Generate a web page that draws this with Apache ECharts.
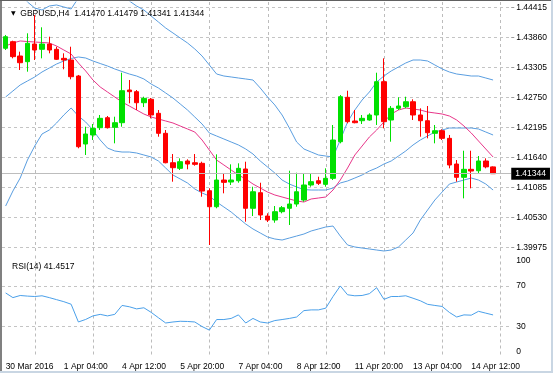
<!DOCTYPE html>
<html><head><meta charset="utf-8">
<script src="https://cdn.jsdelivr.net/npm/echarts@6/dist/echarts.min.js"></script>
<style>html,body{margin:0;padding:0;background:#fff}#c{width:553px;height:373px}</style>
</head><body><div id="c"></div>
<script>
// ---- data ----
const categories = [
 '30 Mar 20:00','31 Mar 00:00','31 Mar 04:00','31 Mar 08:00','31 Mar 12:00','31 Mar 16:00','31 Mar 20:00',
 '1 Apr 00:00','1 Apr 04:00','1 Apr 08:00','1 Apr 12:00','1 Apr 16:00','1 Apr 20:00',
 '4 Apr 00:00','4 Apr 04:00','4 Apr 08:00','4 Apr 12:00','4 Apr 16:00','4 Apr 20:00',
 '5 Apr 00:00','5 Apr 04:00','5 Apr 08:00','5 Apr 12:00','5 Apr 16:00','5 Apr 20:00',
 '6 Apr 00:00','6 Apr 04:00','6 Apr 08:00','6 Apr 12:00','6 Apr 16:00','6 Apr 20:00',
 '7 Apr 00:00','7 Apr 04:00','7 Apr 08:00','7 Apr 12:00','7 Apr 16:00','7 Apr 20:00',
 '8 Apr 00:00','8 Apr 04:00','8 Apr 08:00','8 Apr 12:00','8 Apr 16:00','8 Apr 20:00',
 '11 Apr 00:00','11 Apr 04:00','11 Apr 08:00','11 Apr 12:00','11 Apr 16:00','11 Apr 20:00',
 '12 Apr 00:00','12 Apr 04:00','12 Apr 08:00','12 Apr 12:00','12 Apr 16:00','12 Apr 20:00',
 '13 Apr 00:00','13 Apr 04:00','13 Apr 08:00','13 Apr 12:00','13 Apr 16:00','13 Apr 20:00',
 '14 Apr 00:00','14 Apr 04:00','14 Apr 08:00','14 Apr 12:00','14 Apr 16:00','14 Apr 20:00',
 '15 Apr 00:00','15 Apr 04:00','15 Apr 08:00'
];
// open, high, low, close per H4 bar
const open  = [1.43664,1.43786,1.43521,1.43416,1.43743,1.43645,1.43743,1.43645,1.43478,1.43447,
               1.43151,1.41893,1.42060,1.42195,1.42380,1.42202,1.42287,1.42892,1.42861,1.42657,
               1.42720,1.42461,1.42091,1.41547,1.41443,1.41579,1.41547,1.41536,1.41029,1.40733,
               1.41227,1.41190,1.41214,1.41431,1.40704,1.40992,1.40561,1.40487,1.40641,1.40704,
               1.40783,1.40857,1.41135,1.41214,1.41147,1.41258,1.41936,1.42757,1.42319,1.42324,
               1.42337,1.42430,1.43046,1.42337,1.42553,1.42583,1.42675,1.42430,1.42324,1.42091,
               1.42139,1.41998,1.41523,1.41277,1.41425,1.41399,1.41579,1.41470];
const high  = [1.43910,1.43804,1.43601,1.43941,1.44280,1.44052,1.43878,1.43693,1.43571,1.43693,
               1.43170,1.42213,1.42263,1.42430,1.42411,1.42398,1.43212,1.43077,1.42892,1.42768,
               1.42744,1.42522,1.42152,1.41708,1.41628,1.41610,1.41708,1.41566,1.41073,1.41702,
               1.41351,1.41517,1.41536,1.41566,1.41103,1.41177,1.40611,1.40746,1.40746,1.41399,
               1.41362,1.41338,1.41338,1.41288,1.41443,1.42245,1.42799,1.42879,1.42522,1.42430,
               1.42461,1.43212,1.43478,1.42596,1.42757,1.42768,1.42720,1.42553,1.42596,1.42245,
               1.42165,1.42060,1.41597,1.41769,1.41769,1.41671,1.41628,1.41479];
const low   = [1.43632,1.43478,1.43262,1.43231,1.43447,1.43478,1.43571,1.43447,1.43275,1.43090,
               1.41814,1.41690,1.41967,1.42152,1.42180,1.41906,1.42213,1.42646,1.42522,1.42577,
               1.42368,1.42028,1.41536,1.41196,1.41412,1.41425,1.41492,1.40918,1.40025,1.40704,
               1.40981,1.41135,1.41177,1.40456,1.40561,1.40487,1.40450,1.40437,1.40611,1.40395,
               1.40733,1.40826,1.41103,1.41135,1.41103,1.41227,1.41906,1.42276,1.42276,1.42263,
               1.42324,1.42245,1.42183,1.41936,1.42522,1.42553,1.42337,1.42028,1.41998,1.41906,
               1.41967,1.41443,1.41196,1.40888,1.41073,1.41351,1.41443,1.41341];
const close = [1.43878,1.43509,1.43397,1.43756,1.43632,1.43743,1.43632,1.43460,1.43447,1.43138,
               1.41843,1.42078,1.42183,1.42368,1.42195,1.42287,1.42879,1.42861,1.42657,1.42738,
               1.42430,1.42091,1.41547,1.41455,1.41566,1.41523,1.41517,1.41023,1.40733,1.41227,
               1.41184,1.41227,1.41443,1.40704,1.41010,1.40580,1.40487,1.40641,1.40715,1.40783,
               1.41010,1.41135,1.41196,1.41166,1.41258,1.41967,1.42768,1.42306,1.42287,1.42368,
               1.42430,1.43046,1.42306,1.42553,1.42596,1.42675,1.42430,1.42324,1.42102,1.42139,
               1.41998,1.41505,1.41277,1.41425,1.41393,1.41579,1.41470,1.41344];
// Bollinger bands (20) and pink moving average
const bbUpper = [1.44779,1.44724,1.44705,1.44520,1.44409,1.44372,1.44446,1.44465,1.44428,1.44391,
                 1.44594,1.44668,1.44705,1.44798,1.44853,1.44798,1.44724,1.44539,1.44446,1.44372,
                 1.44261,1.44150,1.44039,1.43947,1.43854,1.43762,1.43651,1.43521,1.43355,1.43188,
                 1.43151,1.43133,1.43114,1.43096,1.43077,1.42929,1.42763,1.42615,1.42430,1.42189,
                 1.41930,1.41801,1.41745,1.41690,1.41671,1.41652,1.41967,1.42300,1.42522,1.42707,
                 1.42855,1.43040,1.43151,1.43244,1.43318,1.43392,1.43447,1.43447,1.43429,1.43355,
                 1.43281,1.43225,1.43188,1.43170,1.43151,1.43151,1.43114,1.43077];
const bbMiddle = [1.42763,1.42874,1.42985,1.43059,1.43133,1.43225,1.43299,1.43373,1.43429,1.43475,
                  1.43503,1.43484,1.43429,1.43382,1.43336,1.43281,1.43234,1.43188,1.43151,1.43096,
                  1.43003,1.42929,1.42837,1.42744,1.42633,1.42522,1.42393,1.42263,1.42097,1.42041,
                  1.41986,1.41930,1.41875,1.41801,1.41708,1.41579,1.41468,1.41357,1.41227,1.41153,
                  1.41098,1.41051,1.41042,1.41042,1.41042,1.41079,1.41172,1.41209,1.41264,1.41320,
                  1.41394,1.41449,1.41523,1.41579,1.41671,1.41764,1.41875,1.41967,1.42041,1.42115,
                  1.42152,1.42189,1.42189,1.42189,1.42189,1.42171,1.42115,1.42060];
const bbLower = [1.40746,1.41024,1.41264,1.41597,1.41856,1.42078,1.42152,1.42282,1.42430,1.42559,
                 1.42411,1.42300,1.42152,1.41967,1.41819,1.41764,1.41745,1.41745,1.41727,1.41690,
                 1.41653,1.41579,1.41449,1.41320,1.41246,1.41172,1.41061,1.40987,1.40931,1.40820,
                 1.40728,1.40635,1.40524,1.40413,1.40321,1.40247,1.40173,1.40136,1.40117,1.40154,
                 1.40191,1.40228,1.40284,1.40321,1.40358,1.40376,1.40191,1.40025,1.39988,1.39969,
                 1.39951,1.39932,1.39914,1.39932,1.39988,1.40117,1.40247,1.40487,1.40672,1.40857,
                 1.41005,1.41153,1.41190,1.41227,1.41264,1.41227,1.41153,1.41042];
const maPink = [1.43706,1.43762,1.43799,1.43789,1.43780,1.43771,1.43762,1.43706,1.43632,1.43558,
                1.43392,1.43244,1.43077,1.42948,1.42855,1.42763,1.42670,1.42596,1.42522,1.42448,
                1.42393,1.42356,1.42319,1.42282,1.42226,1.42171,1.42115,1.41967,1.41782,1.41597,
                1.41505,1.41412,1.41320,1.41246,1.41153,1.41079,1.41005,1.40950,1.40913,1.40876,
                1.40839,1.40820,1.40876,1.40894,1.40913,1.41042,1.41227,1.41449,1.41690,1.41856,
                1.42023,1.42152,1.42300,1.42448,1.42522,1.42559,1.42541,1.42522,1.42485,1.42467,
                1.42448,1.42411,1.42337,1.42226,1.42097,1.41949,1.41801,1.41653];
const rsi14 = [63.1,58.5,60.6,60.0,59.6,60.3,58.5,56.5,54.5,52.0,
               34.5,37.0,40.5,42.0,40.5,42.0,50.8,49.5,47.4,48.5,
               44.0,38.7,33.5,34.5,35.2,35.0,34.5,30.0,26.5,36.9,
               36.9,38.0,41.5,33.5,38.0,34.5,33.5,35.9,36.9,38.0,
               39.4,45.7,46.4,46.4,48.1,59.6,70.0,61.3,60.3,60.6,
               62.4,68.3,56.8,59.6,59.6,60.3,57.9,55.4,51.9,50.8,
               49.8,43.9,39.4,41.5,41.2,45.0,43.2,41.4517];
const priceTicks = [1.39975,1.40530,1.41085,1.41640,1.42195,1.42750,1.43305,1.43860,1.44415];
const rsiTicks = [0,30,70,100];
const rsiLevels = [30,70];
const timeGridIdx = [4,12,20,28,36,44,52,60,68];
const timeLabelIdx = [0,8,16,24,32,40,48,56,64];
const timeLabels = ['30 Mar 2016','1 Apr 04:00','4 Apr 12:00','5 Apr 20:00','7 Apr 04:00',
                    '8 Apr 12:00','11 Apr 20:00','13 Apr 04:00','14 Apr 12:00'];

// ---- chart ----
const n = close.length;
const last = n - 1;
const candles = open.map((o, i) => [o, close[i], low[i], high[i]]);
const FONT = 'Liberation Sans, Arial, sans-serif';
const FS = 8.5;
const GRIDC = '#c4c4c4';
const dashed = () => ({color: GRIDC, type: [3, 3], width: 1});
const blue = '#5a9ee0';
const G0 = {left: 2, top: 2, width: 509.25, height: 251};
const G1 = {left: 2, top: 255.5, width: 509.25, height: 101.5};

// vertical grid lines: a custom series on the category axis draws short dash segments
const vGridSeries = (xi, yi, yRef) => ({
  type: 'custom', xAxisIndex: xi, yAxisIndex: yi, silent: true, z: 1, clip: false,
  data: timeGridIdx.map(i => [i, yRef]),
  renderItem: (params, api) => {
    const x = Math.round(api.coord([api.value(0), yRef])[0]) + 0.5;
    const cs = params.coordSys;
    const children = [];
    for (let y = cs.y; y < cs.y + cs.height; y += 6) {
      children.push({type: 'rect', silent: true,
        shape: {x: x - 0.5, y: y, width: 1, height: Math.min(3, cs.y + cs.height - y)},
        style: {fill: '#bcbcbc'}});
    }
    return {type: 'group', children: children};
  }
});

const chart = echarts.init(document.getElementById('c'), null, {renderer: 'canvas'});
chart.setOption({
  animation: false,
  backgroundColor: '#ffffff',
  textStyle: {fontFamily: FONT, fontSize: FS, color: '#000'},
  title: [
    {text: '{tri|▼}  GBPUSD,H4  ' + [open[last], high[last], low[last], close[last]].map(v => v.toFixed(5)).join(' '),
     left: 6, top: 4,
     textStyle: {fontFamily: FONT, fontSize: FS, fontWeight: 'normal', color: '#000',
       rich: {tri: {fontSize: 6, fontFamily: 'DejaVu Sans', color: '#000'}}}},
    {text: 'RSI(14) ' + rsi14[last].toFixed(4), left: 7, top: 257,
     textStyle: {fontFamily: FONT, fontSize: FS, fontWeight: 'normal', color: '#000'}}
  ],
  grid: [G0, G1],
  xAxis: [
    {type: 'category', gridIndex: 0, data: categories, boundaryGap: true,
     axisLine: {show: false}, axisTick: {show: false}, axisLabel: {show: false}, splitLine: {show: false}},
    {type: 'category', gridIndex: 1, data: categories, boundaryGap: true,
     axisLine: {show: false}, axisTick: {show: false},
     axisLabel: {show: true, customValues: timeLabelIdx, align: 'left', margin: 5,
       fontFamily: FONT, fontSize: FS, color: '#000',
       formatter: (v) => { const k = categories.indexOf(v); const j = timeLabelIdx.indexOf(k); return j >= 0 ? timeLabels[j] : ''; }},
     splitLine: {show: false}}
  ],
  yAxis: [
    {type: 'value', gridIndex: 0, position: 'right', min: 1.39877, max: 1.44520,
     axisLine: {show: false},
     axisTick: {show: true, customValues: priceTicks, length: 3, lineStyle: {color: '#999'}},
     axisLabel: {customValues: priceTicks, margin: 5, fontFamily: FONT, fontSize: FS, color: '#000',
       formatter: v => v.toFixed(5)},
     splitLine: {show: true, lineStyle: dashed()}},
    {type: 'value', gridIndex: 1, position: 'right', min: 0, max: 100,
     axisLine: {show: false},
     axisTick: {show: false, customValues: rsiLevels},
     axisLabel: {customValues: rsiTicks, margin: 5, fontFamily: FONT, fontSize: FS, color: '#000',
       formatter: v => v === 100 ? '{a|100}' : (v === 0 ? '{b|0}' : String(v)),
       rich: {a: {padding: [11, 0, 0, 0], fontSize: FS, fontFamily: FONT}, b: {padding: [0, 0, 11, 0], fontSize: FS, fontFamily: FONT}}},
     splitLine: {show: true, lineStyle: dashed()}},
    // current price line + black price box
    {type: 'value', gridIndex: 0, position: 'right', min: 1.39877, max: 1.44520, z: 5,
     axisLine: {show: false},
     axisTick: {show: false, customValues: [close[last]]},
     axisLabel: {customValues: [close[last]], margin: 0, fontFamily: FONT, fontSize: FS, color: '#fff',
       backgroundColor: '#000', padding: [2, 4, 1, 4], formatter: v => v.toFixed(5)},
     splitLine: {show: true, lineStyle: {color: '#bdbdbd', type: 'solid', width: 1}}}
  ],
  series: [
    vGridSeries(0, 0, priceTicks[0]),
    vGridSeries(1, 1, rsiLevels[0]),
    {type: 'line', name: 'BB lower', xAxisIndex: 0, yAxisIndex: 0, data: bbLower, showSymbol: false,
     lineStyle: {color: blue, width: 1}, z: 2, silent: true},
    {type: 'line', name: 'BB middle', xAxisIndex: 0, yAxisIndex: 0, data: bbMiddle, showSymbol: false,
     lineStyle: {color: blue, width: 1}, z: 2, silent: true},
    {type: 'line', name: 'BB upper', xAxisIndex: 0, yAxisIndex: 0, data: bbUpper, showSymbol: false,
     lineStyle: {color: blue, width: 1}, z: 2, silent: true},
    {type: 'line', name: 'MA', xAxisIndex: 0, yAxisIndex: 0, data: maPink, showSymbol: false,
     lineStyle: {color: '#e8368a', width: 1}, z: 2, silent: true},
    {type: 'candlestick', name: 'GBPUSD', xAxisIndex: 0, yAxisIndex: 0, data: candles, barWidth: 5, z: 3,
     itemStyle: {color: '#00e000', color0: '#ff0000', borderColor: '#00e000', borderColor0: '#ff0000', borderWidth: 1}},
    {type: 'line', name: 'RSI(14)', xAxisIndex: 1, yAxisIndex: 1, data: rsi14, showSymbol: false,
     lineStyle: {color: '#4aa0ea', width: 1}, z: 2, silent: true}
  ],
  graphic: {elements: [
    {type: 'rect', left: 0, top: 0, shape: {width: 2, height: 373}, style: {fill: '#808080'}, silent: true, z: 10},
    {type: 'rect', left: 0, top: 0, shape: {width: 553, height: 1}, style: {fill: '#606060'}, silent: true, z: 10},
    {type: 'rect', left: 551, top: 0, shape: {width: 2, height: 373}, style: {fill: '#c9d6e3'}, silent: true, z: 10},
    {type: 'rect', left: 0, top: 371, shape: {width: 553, height: 2}, style: {fill: '#c9d6e3'}, silent: true, z: 10}
  ]}
});
</script></body></html>
